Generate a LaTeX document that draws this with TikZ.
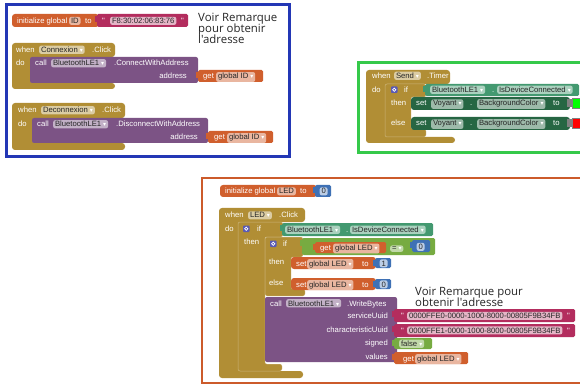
\documentclass[tikz,border=0pt]{standalone}
\usepackage{fontspec}
\setmainfont{Liberation Sans}
\newfontfamily\blkf{Liberation Sans}
\newfontfamily\notef{Open Sans}
\newfontfamily\djv{DejaVu Sans}
\definecolor{cgold}{HTML}{B18E35}
\definecolor{corng}{HTML}{D05F2D}
\definecolor{cmag}{HTML}{B32D5E}
\definecolor{cpurp}{HTML}{7C5385}
\definecolor{cteal}{HTML}{439970}
\definecolor{cdkgrn}{HTML}{266643}
\definecolor{cblue}{HTML}{3F71B5}
\definecolor{clogic}{HTML}{77AB41}
\definecolor{cgear}{HTML}{5A5AB4}
\definecolor{fblue}{HTML}{2337B5}
\definecolor{fgreen}{HTML}{35C94A}
\definecolor{forng}{HTML}{CC5B2B}
\newcommand\dd{\hspace{2pt}{\djv\fontsize{6}{6}\selectfont\textcolor{white}{▾}}}
\newcommand\vb[5]{\fill[#1,rounded corners=1.5pt] (#2,#3) rectangle (#4,#5); \fill[#1] ({#2-2.5},{#3+2}) rectangle ({#2+1},{#3+8});}
\newcommand\gearbox[2]{\fill[cgear,rounded corners=0.8pt] (#1,#2) rectangle ({#1+6.5},{#2+6.5}); \draw[white,line width=0.7pt] ({#1+3.25},{#2+3.25}) circle (1.6);}
\begin{document}
\begin{tikzpicture}[x=1pt,y=-1pt,
  bt/.style={font=\blkf\fontsize{7.7}{9}\selectfont, text=white, inner sep=0pt, anchor=base west},
  btr/.style={bt, anchor=base east},
  bub/.style={font=\blkf\fontsize{7.7}{9}\selectfont, text=black!85, fill=white, fill opacity=0.55, text opacity=1, rounded corners=2pt, inner xsep=1.8pt, inner ysep=1.3pt, anchor=base west},
  bubs/.style={bub, fill opacity=0.65},
  note/.style={font=\notef\fontsize{11.4}{11.5}\selectfont, text=black!85, inner sep=0pt, anchor=base west},
  ifo/.style={draw=white, draw opacity=0.35, line width=0.5pt}]
\useasboundingbox (0,0) rectangle (580,387);
\clip (0,0) rectangle (580,387);
\fill[white] (0,0) rectangle (580,387);

% ===== blue frame =====
\draw[fblue, line width=3pt] (6,5) rectangle (289,157);
% initialize global ID
\fill[corng, rounded corners=3pt] (12,14) rectangle (99,27);
\vb{cmag}{97}{14}{188}{27}
\node[bt] (a1) at (17,23.5) {initialize global};
\node[bub] (a2) at (69,23.5) {ID};
\node[bt] (a3) at (85,23.5) {to};
\node[bt] (a4) at (102,23.5) {"};
\node[bubs] (a5) at (110,23.5) {F8:30:02:06:83:76};
\node[bt] (a6) at (181,23.5) {"};
\node[note] (n1) at (198,21.5) {Voir Remarque};
\node[note] (n2) at (198,32.8) {pour obtenir};
\node[note] (n3) at (198,44) {l'adresse};

% when Connexion.Click
\fill[cgold, rounded corners=3pt] (12,43) -- (115,43) -- (115,57) -- (30,57) -- (30,83) -- (115,83) -- (115,89) -- (12,89) -- cycle;
\fill[cpurp, rounded corners=2pt] (30,57) rectangle (198,83);
\vb{corng}{198}{70}{263}{82}
\node[bt] (b1) at (16,52.5) {when};
\node[bub] (b2) at (39,52.5) {Connexion\dd};
\node[bt] (b3) at (92,52.5) {.Click};
\node[bt] (b4) at (16,66) {do};
\node[bt] (b5) at (35,66) {call};
\node[bub] (b6) at (51,66) {BluetoothLE1\dd};
\node[bt] (b7) at (114,66) {.ConnectWithAddress};
\node[btr] (b8) at (187,79) {address};
\node[bt] (b9) at (203,79) {get};
\node[bub] (b10) at (216,79) {global ID\dd};

% when Deconnexion.Click
\fill[cgold, rounded corners=3pt] (12,103) -- (125,103) -- (125,118) -- (32,118) -- (32,143) -- (125,143) -- (125,150) -- (12,150) -- cycle;
\fill[cpurp, rounded corners=2pt] (32,118) rectangle (208,143);
\vb{corng}{208}{131}{273}{143}
\node[bt] (c1) at (18,113) {when};
\node[bub] (c2) at (41,113) {Deconnexion\dd};
\node[bt] (c3) at (102,113) {.Click};
\node[bt] (c4) at (18,127) {do};
\node[bt] (c5) at (37,127) {call};
\node[bub] (c6) at (53,127) {BluetoothLE1\dd};
\node[bt] (c7) at (116,127) {.DisconnectWithAddress};
\node[btr] (c8) at (198,140) {address};
\node[bt] (c9) at (214,140) {get};
\node[bub] (c10) at (227,140) {global ID\dd};

% ===== green frame =====
\draw[fgreen, line width=3pt] (358,63) rectangle (590,153);
\fill[cgold, rounded corners=3pt] (366,70) -- (450,70) -- (450,84) -- (385,84) -- (385,137) -- (455,137) -- (455,143) -- (366,143) -- cycle;
\fill[cgold, rounded corners=2pt] (385,84) -- (426,84) -- (426,97) -- (411,97) -- (411,129) -- (426,129) -- (426,137) -- (385,137) -- cycle;
\draw[ifo, rounded corners=2pt] (385,84) -- (426,84) -- (426,97) -- (411,97) -- (411,129) -- (426,129) -- (426,137) -- (385,137) -- cycle;
\node[bt] (d1) at (372,78.5) {when};
\node[bub] (d2) at (394,78.5) {Send\dd};
\node[bt] (d3) at (427,78.5) {.Timer};
\node[bt] (d4) at (372,92.5) {do};
\gearbox{391}{86.5}
\node[bt] (d5) at (404,92.5) {if};
\node[bt] (d6) at (391,105.5) {then};
\node[bt] (d7) at (391,125.5) {else};
\vb{cteal}{425}{84}{579}{96}
\node[bub] (d8) at (430,92.5) {BluetoothLE1\dd};
\node[bt] (d9) at (492,92.5) {.};
\node[bub] (d10) at (497,92.5) {IsDeviceConnected\dd};
% set then
\fill[cdkgrn, rounded corners=3pt] (411,97) rectangle (570,110);
\node[bt] (d11) at (416,106) {set};
\node[bub] (d12) at (431,106) {Voyant\dd};
\node[bt] (d13) at (470,106) {.};
\node[bub] (d14) at (477,106) {BackgroundColor\dd};
\node[bt] (d15) at (553,106) {to};
\fill[gray] (567,99.5) rectangle (572,107.5);
\fill[green, draw=gray, line width=0.8pt] (572,98.5) rectangle (582,108.5);
% set else
\fill[cdkgrn, rounded corners=3pt] (411,117) rectangle (570,130);
\node[bt] (d16) at (416,126) {set};
\node[bub] (d17) at (431,126) {Voyant\dd};
\node[bt] (d18) at (470,126) {.};
\node[bub] (d19) at (477,126) {BackgroundColor\dd};
\node[bt] (d20) at (553,126) {to};
\fill[gray] (567,119.5) rectangle (572,127.5);
\fill[red, draw=gray, line width=0.8pt] (572,118.5) rectangle (582,128.5);

% ===== orange frame =====
\draw[forng, line width=2.5pt] (202,178) rectangle (590,383);
\fill[corng, rounded corners=3pt] (220,185) rectangle (317,197);
\vb{cblue}{315}{185}{331}{197}
\node[bt] (e1) at (225,194) {initialize global};
\node[bub] (e2) at (277,194) {LED};
\node[bt] (e3) at (300,194) {to};
\node[bubs] (e4) at (319.5,194) {0};

% when LED.Click
\fill[cgold, rounded corners=3pt] (219,208) -- (305,208) -- (305,222) -- (238,222) -- (238,371) -- (303,371) -- (303,378) -- (219,378) -- cycle;
% outer if
\fill[cgold, rounded corners=2pt] (238,222) -- (283,222) -- (283,237) -- (265,237) -- (265,364) -- (282,364) -- (282,371) -- (238,371) -- cycle;
\draw[ifo, rounded corners=2pt] (238,222) -- (283,222) -- (283,237) -- (265,237) -- (265,364) -- (282,364) -- (282,371) -- (238,371) -- cycle;
% inner if
\fill[cgold, rounded corners=2pt] (265,237) -- (303,237) -- (303,257) -- (291,257) -- (291,289) -- (305,289) -- (305,296) -- (265,296) -- cycle;
\draw[ifo, rounded corners=2pt] (265,237) -- (303,237) -- (303,257) -- (291,257) -- (291,289) -- (305,289) -- (305,296) -- (265,296) -- cycle;
\node[bt] (f1) at (225,218) {when};
\node[bub] (f2) at (248,218) {LED\dd};
\node[bt] (f3) at (279,218) {.Click};
\node[bt] (f4) at (225,231) {do};
\gearbox{243}{225.5}
\node[bt] (f5) at (257,231) {if};
\node[bt] (f6) at (244,244) {then};
\vb{cteal}{282}{223}{433}{236}
\node[bub] (f7) at (285,232.5) {BluetoothLE1\dd};
\node[bt] (f8) at (346,232.5) {.};
\node[bub] (f9) at (350,232.5) {IsDeviceConnected\dd};
\gearbox{270}{240.5}
\node[bt] (f10) at (283,246.5) {if};
\node[bt] (f11) at (269,264) {then};
\node[bt] (f12) at (269,285) {else};
% compare
\vb{clogic}{302}{238}{435}{255}
\vb{corng}{315}{242}{386}{253}
\node[bt] (f13) at (320,250.5) {get};
\node[bub] (f14) at (333,250.5) {global LED\dd};
\node[bub] (f15) at (390,250.5) {=\dd};
\vb{cblue}{412}{240}{430}{252}
\node[bubs] (f16) at (416.5,249.5) {0};
% set 1
\fill[corng, rounded corners=3pt] (291,257) rectangle (376,269);
\vb{cblue}{375}{258}{391}{268}
\node[bt] (f17) at (296,266) {set};
\node[bub] (f18) at (307,266) {global LED\dd};
\node[bt] (f19) at (362,266) {to};
\node[bubs] (f20) at (379.5,266) {1};
% set 0
\fill[corng, rounded corners=3pt] (291,278) rectangle (376,290);
\vb{cblue}{375}{279}{391}{289}
\node[bt] (f21) at (296,287) {set};
\node[bub] (f22) at (307,287) {global LED\dd};
\node[bt] (f23) at (362,287) {to};
\node[bubs] (f24) at (379.5,287) {0};
% call WriteBytes
\fill[cpurp, rounded corners=2pt] (265,297) rectangle (397,362);
\node[bt] (g1) at (270,306) {call};
\node[bub] (g2) at (286,306) {BluetoothLE1\dd};
\node[bt] (g3) at (347,306) {.WriteBytes};
\node[btr] (g4) at (388,318.5) {serviceUuid};
\node[btr] (g5) at (388,332) {characteristicUuid};
\node[btr] (g6) at (388,345.5) {signed};
\node[btr] (g7) at (388,359) {values};
\vb{cmag}{394}{309}{575}{322}
\node[bt] (g8) at (401,318.5) {"};
\node[bubs] (g9) at (407,318.5) {0000FFE0-0000-1000-8000-00805F9B34FB};
\node[bt] (g10) at (567,318.5) {"};
\vb{cmag}{394}{324}{575}{337}
\node[bt] (g11) at (401,333) {"};
\node[bubs] (g12) at (407,333) {0000FFE1-0000-1000-8000-00805F9B34FB};
\node[bt] (g13) at (567,333) {"};
\vb{clogic}{394}{338}{432}{349}
\node[bub] (g14) at (399,346.5) {false\dd};
\vb{corng}{394}{352}{468}{364}
\node[bt] (g15) at (403,361) {get};
\node[bub] (g16) at (415,361) {global LED\dd};
\node[note] (n4) at (415,295) {Voir Remarque pour};
\node[note] (n5) at (415,306.7) {obtenir l'adresse};
\end{tikzpicture}
\end{document}
